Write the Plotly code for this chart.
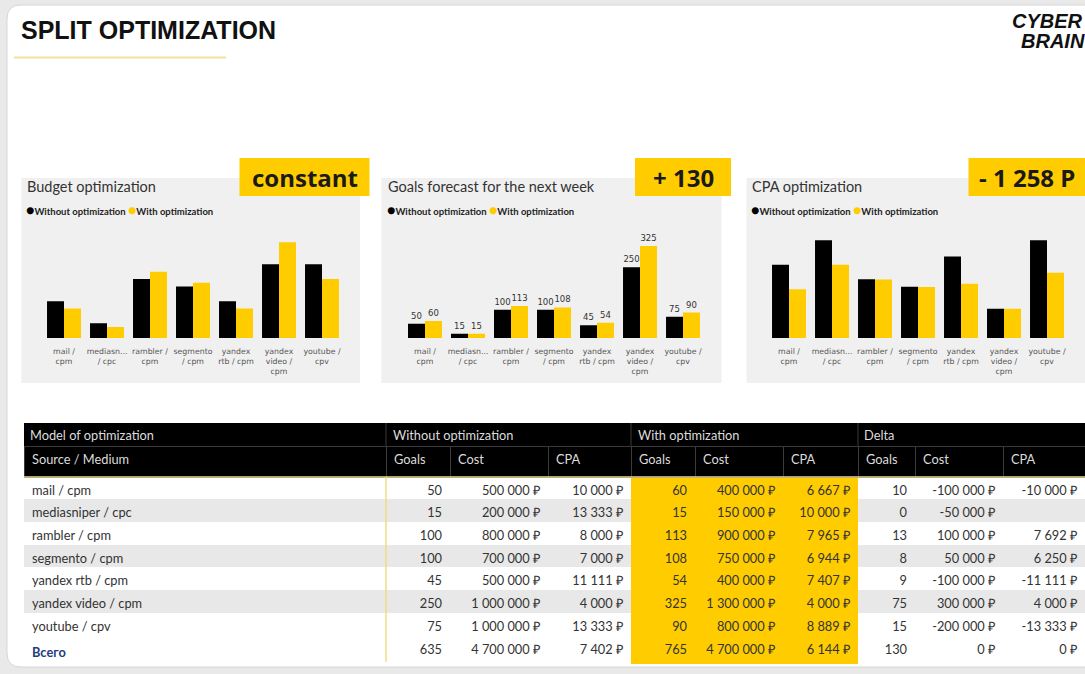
import plotly.graph_objects as go

W, H = 1085, 674

# ---------------- data ----------------
categories = ["mail /<br>cpm", "mediasn...<br>/ cpc", "rambler /<br>cpm", "segmento<br>/ cpm",
              "yandex<br>rtb / cpm", "yandex<br>video /<br>cpm", "youtube /<br>cpv"]
sources = ["mail / cpm", "mediasniper / cpc", "rambler / cpm", "segmento / cpm",
           "yandex rtb / cpm", "yandex video / cpm", "youtube / cpv"]
total_label = "Всего"

goals_without = [50, 15, 100, 100, 45, 250, 75]
goals_with = [60, 15, 113, 108, 54, 325, 90]
cost_without = [500000, 200000, 800000, 700000, 500000, 1000000, 1000000]
cost_with = [400000, 150000, 900000, 750000, 400000, 1300000, 800000]
cpa_without = [10000, 13333, 8000, 7000, 11111, 4000, 13333]
cpa_with = [6667, 10000, 7965, 6944, 7407, 4000, 8889]
delta_goals = [10, 0, 13, 8, 9, 75, 15]
delta_cost = [-100000, -50000, 100000, 50000, -100000, 300000, -200000]
delta_cpa = [-10000, None, 7692, 6250, -11111, 4000, -13333]

total_without = [635, 4700000, 7402]
total_with = [765, 4700000, 6144]
total_delta = [130, 0, 0]

box_texts = ["constant", "+ 130", "- 1 258 P"]
panel_titles = ["Budget optimization", "Goals forecast for the next week", "CPA optimization"]
group_headers = ["Model of optimization", "Without optimization", "With optimization", "Delta"]
sub_headers = ["Source / Medium", "Goals", "Cost", "CPA", "Goals", "Cost", "CPA", "Goals", "Cost", "CPA"]

# ---------------- styles ----------------
BLACK = "#000000"
YELLOW = "#FFCC00"
PANEL = "#f0f0f0"
ALT = "#e8e8e8"
FONT = "Lato"
SMALL = "DejaVu Sans"
TXT = "#333333"


def fx(p):
    return p / W


def fy(p):
    return 1 - p / H


def rub(v):
    if v is None:
        return ""
    s = f"{abs(v):,}".replace(",", "\u00a0")
    return ("-" if v < 0 else "") + s + "\u00a0₽"


def num(v):
    return "" if v is None else str(v)


fig = go.Figure()

# chart geometry (pixels)
chart_x = [(42.5, 343.5), (403.5, 704.5), (767.5, 1068.5)]
chart_y = (220, 338)
ranges = [1.6e6, 417, 16100]
series = [(cost_without, cost_with), (goals_without, goals_with), (cpa_without, cpa_with)]

for i, ((x0, x1), (s_wo, s_w), rmax) in enumerate(zip(chart_x, series, ranges)):
    ax = "" if i == 0 else str(i + 1)
    show_text = (i == 1)
    for vals, col, nm in [(s_wo, BLACK, "Without optimization"), (s_w, YELLOW, "With optimization")]:
        fig.add_trace(go.Bar(
            x=categories, y=vals, marker_color=col, marker_line_width=0,
            xaxis="x" + ax, yaxis="y" + ax, name=nm,
            text=[str(v) for v in vals] if show_text else None,
            textposition="outside" if show_text else "none",
            textfont=dict(family=SMALL, size=8.5, color=TXT), constraintext="none",
            cliponaxis=False, hoverinfo="skip"))
    fig.layout["xaxis" + ax] = dict(
        domain=[fx(x0), fx(x1)], anchor="y" + ax, type="category",
        showgrid=False, zeroline=False, showline=False, ticks="",
        ticklabelstandoff=7,
        tickfont=dict(family=SMALL, size=7.8, color="#555555"), fixedrange=True)
    fig.layout["yaxis" + ax] = dict(
        domain=[fy(chart_y[1]), fy(chart_y[0])], anchor="x" + ax,
        range=[0, rmax], visible=False, fixedrange=True)

# ---------------- table ----------------
n = len(sources)
col_source = sources + [f"<b>{total_label}</b>"]
cols = [
    col_source,
    [num(v) for v in goals_without] + [num(total_without[0])],
    [rub(v) for v in cost_without] + [rub(total_without[1])],
    [rub(v) for v in cpa_without] + [rub(total_without[2])],
    [num(v) for v in goals_with] + [num(total_with[0])],
    [rub(v) for v in cost_with] + [rub(total_with[1])],
    [rub(v) for v in cpa_with] + [rub(total_with[2])],
    [num(v) for v in delta_goals] + [num(total_delta[0])],
    [rub(v) for v in delta_cost] + [rub(total_delta[1])],
    [rub(v) for v in delta_cpa] + [rub(total_delta[2])],
]
alt_col = ["#ffffff" if (r % 2 == 0 or r == n) else ALT for r in range(n + 1)]
yel_col = [YELLOW] * (n + 1)
fills = [alt_col, alt_col, alt_col, alt_col, yel_col, yel_col, yel_col, alt_col, alt_col, alt_col]
font_cols = []
for c in range(10):
    fc = [TXT] * (n + 1)
    if c == 0:
        fc[n] = "#1f3d7a"
    font_cols.append(fc)

col_px = [362, 64, 98, 83, 64, 88, 75, 57, 88, 82]
table_top = 446
header_h = 31
row_h = 22.7
fig.add_trace(go.Table(
    domain=dict(x=[fx(24), 1.0], y=[fy(table_top + header_h + row_h * (n + 1) + 6), fy(table_top)]),
    columnwidth=col_px,
    header=dict(values=sub_headers, fill_color=BLACK, height=header_h,
                line=dict(color="#3a3a3a", width=1), align="left",
                font=dict(family=FONT, size=12.8, color="#dcdcdc")),
    cells=dict(values=cols, fill_color=fills, height=row_h,
               line=dict(color=fills, width=1),
               align=["left"] + ["right"] * 9,
               font=dict(family=FONT, size=12.8, color=font_cols)),
))

# ---------------- shapes ----------------
shapes = []
cl, ct, cr, cb, r = 7, 5, 1110, 667, 14
path = (f"M {fx(cl + r)},{fy(ct)} L {fx(cr)},{fy(ct)} L {fx(cr)},{fy(cb)} L {fx(cl + r)},{fy(cb)} "
        f"Q {fx(cl)},{fy(cb)} {fx(cl)},{fy(cb - r)} L {fx(cl)},{fy(ct + r)} "
        f"Q {fx(cl)},{fy(ct)} {fx(cl + r)},{fy(ct)} Z")
shapes.append(dict(type="path", xref="paper", yref="paper", path=path,
                   fillcolor="#ffffff", line=dict(color="#d6d6d6", width=1), layer="below"))
shapes.append(dict(type="line", xref="paper", yref="paper", x0=fx(14), x1=fx(226), y0=fy(57.5), y1=fy(57.5),
                   line=dict(color="#f2e29c", width=2), layer="below"))
panels = [(21.5, 360), (381.5, 721.5), (746.5, 1085)]
for (px0, px1) in panels:
    shapes.append(dict(type="rect", xref="paper", yref="paper", x0=fx(px0), x1=fx(px1),
                       y0=fy(383), y1=fy(178), fillcolor=PANEL, line_width=0, layer="below"))
boxes = [(239.5, 369.5), (635, 731), (968.5, 1085)]
for (bx0, bx1) in boxes:
    shapes.append(dict(type="rect", xref="paper", yref="paper", x0=fx(bx0), x1=fx(bx1),
                       y0=fy(196), y1=fy(158), fillcolor=YELLOW, line_width=0, layer="below"))
shapes.append(dict(type="rect", xref="paper", yref="paper", x0=fx(24), x1=1.0,
                   y0=fy(446), y1=fy(423), fillcolor=BLACK, line_width=0, layer="below"))
for sx in [386, 631, 858]:
    shapes.append(dict(type="line", xref="paper", yref="paper", x0=fx(sx), x1=fx(sx),
                       y0=fy(446), y1=fy(423), line=dict(color="#3a3a3a", width=1), layer="below"))
shapes.append(dict(type="line", xref="paper", yref="paper", x0=fx(24), x1=1.0, y0=fy(477), y1=fy(477),
                   line=dict(color="#eadb95", width=1.5), layer="above"))
shapes.append(dict(type="line", xref="paper", yref="paper", x0=fx(386), x1=fx(386), y0=fy(477), y1=fy(662),
                   line=dict(color="#f0dc80", width=1.5), layer="above"))

# ---------------- annotations ----------------
ann = []
ann.append(dict(text="<b>SPLIT OPTIMIZATION</b>", x=fx(19), y=fy(30), xanchor="left", yanchor="middle",
                font=dict(family="Liberation Sans", size=25, color="#111111")))
ann.append(dict(text="<b><i>CYBER</i></b>", x=fx(1085), y=fy(21), xanchor="right", yanchor="middle",
                font=dict(family="Liberation Sans", size=20, color="#111111")))
ann.append(dict(text="<b><i>BRAIN</i></b>", x=fx(1087), y=fy(41), xanchor="right", yanchor="middle",
                font=dict(family="Liberation Sans", size=20, color="#111111")))
title_x = [25, 385.5, 750]
for tx, tt in zip(title_x, panel_titles):
    ann.append(dict(text=tt, x=fx(tx), y=fy(186.5), xanchor="left", yanchor="middle",
                    font=dict(family=FONT, size=14.5, color=TXT)))
    ann.append(dict(text=f'<span style="color:{BLACK};font-size:14px">●</span>Without optimization '
                         f'<span style="color:{YELLOW};font-size:14px">●</span>With optimization',
                    x=fx(tx - 1), y=fy(209.5), xanchor="left", yanchor="middle",
                    font=dict(family=FONT, size=9.5, color="#222222", weight="bold")))
box_text_x = [304.5, 683, 1026.5]
for bx, bt in zip(box_text_x, box_texts):
    ann.append(dict(text=f"<b>{bt}</b>", x=fx(bx), y=fy(177), xanchor="center", yanchor="middle",
                    font=dict(family="Open Sans", size=24, color="#1a1a1a")))
hdr_x = [28, 391, 636, 862]
for hx, ht in zip(hdr_x, group_headers):
    ann.append(dict(text=ht, x=fx(hx), y=fy(434.5), xanchor="left", yanchor="middle",
                    font=dict(family=FONT, size=12.8, color="#dcdcdc")))
for a in ann:
    a.update(xref="paper", yref="paper", showarrow=False)

fig.update_layout(
    width=W, height=H, margin=dict(l=0, r=0, t=0, b=0),
    paper_bgcolor="#e9e9e9", plot_bgcolor="rgba(0,0,0,0)",
    barmode="group", bargap=0.21, bargroupgap=0,
    showlegend=False, shapes=shapes, annotations=ann,
    font=dict(family=FONT),
)

fig.write_html("out.html", config=dict(displayModeBar=False))
